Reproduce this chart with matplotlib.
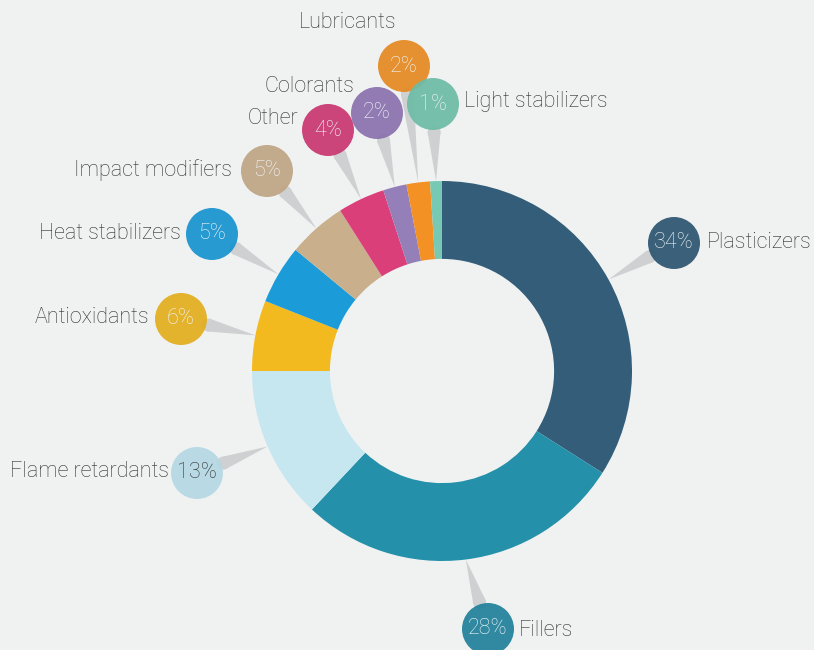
import numpy as np
import matplotlib.pyplot as plt
from matplotlib.patches import Circle, Polygon

# share of additives (percent), clockwise from 12 o'clock
names = ["Plasticizers", "Fillers", "Flame retardants", "Antioxidants",
         "Heat stabilizers", "Impact modifiers", "Other", "Colorants",
         "Lubricants", "Light stabilizers"]
shares = [34, 28, 13, 6, 5, 5, 4, 2, 2, 1]

slice_colors = ["#335d78", "#2490aa", "#c6e6f0", "#f2ba1e", "#1b9bd8",
                "#c9af8c", "#da3f7a", "#957fb9", "#f39124", "#78c9b4"]
bubble_colors = ["#2c5571", "#21819a", "#b5d8e4", "#e2ae1e", "#1893cf",
                 "#bfa584", "#c93872", "#8a72ad", "#e58a22", "#6dbca6"]
pct_colors = ["#f2f5f7"] * 10
pct_colors[2] = "#333333"

# layout, in pixels of the 814x650 picture
CX, CY, R = 442, 371, 190
bubble_px = [(674, 243), (488, 629), (197, 473), (181, 319), (212, 234),
             (267, 171), (328, 130), (377, 113), (404, 66), (433, 104)]
label_px = [(707, 243, "left"), (519, 631, "left"), (169, 472, "right"),
            (149, 318, "right"), (181, 234, "right"), (232, 170, "right"),
            (298, 119, "right"), (354, 87, "right"), (348, 23, "center"),
            (464, 102, "left")]


def px(x, y):
    return (x - CX) / R, (CY - y) / R


bg = "#f0f2f2"
fig = plt.figure(figsize=(8.14, 6.5), dpi=100, facecolor=bg)
ax = fig.add_axes([0, 0, 1, 1])
ax.set_facecolor(bg)

wedges, _ = ax.pie(shares, colors=slice_colors, startangle=90, counterclock=False,
                   radius=1.0, wedgeprops=dict(width=0.41, linewidth=0))
for w in wedges:
    w.set_zorder(2)

br = 26 / R
for i, w in enumerate(wedges):
    mid = np.deg2rad((w.theta1 + w.theta2) / 2)
    tip = np.array([np.cos(mid), np.sin(mid)])
    bc = np.array(px(*bubble_px[i]))
    d = tip - bc
    d = d / np.linalg.norm(d)
    base = bc + d * (br + 2 / R)
    perp = np.array([-d[1], d[0]]) * (6.5 / R)
    ax.add_patch(Polygon([tip, base + perp, base - perp], closed=True,
                         color="#cfd0d2", lw=0, zorder=1))
    ax.add_patch(Circle(base, 6.5 / R, color="#cfd0d2", lw=0, zorder=1))
    ax.add_patch(Circle(bc, br, color=bubble_colors[i], alpha=0.93, lw=0, zorder=3))
    ax.text(bc[0], bc[1], f"{shares[i]}%", ha="center", va="center",
            fontsize=15.5, color=pct_colors[i], family="Roboto",
            fontweight="light", zorder=4)
    lx, ly, ha = label_px[i]
    ax.text(*px(lx, ly), names[i], ha=ha, va="center", fontsize=15.5,
            color="#2e2e2e", family="Roboto", fontweight="light", zorder=4)

ax.set_xlim(-CX / R, (814 - CX) / R)
ax.set_ylim((CY - 650) / R, CY / R)
ax.set_aspect("equal")
ax.axis("off")

fig.savefig("out.png", dpi=100, facecolor=bg)
